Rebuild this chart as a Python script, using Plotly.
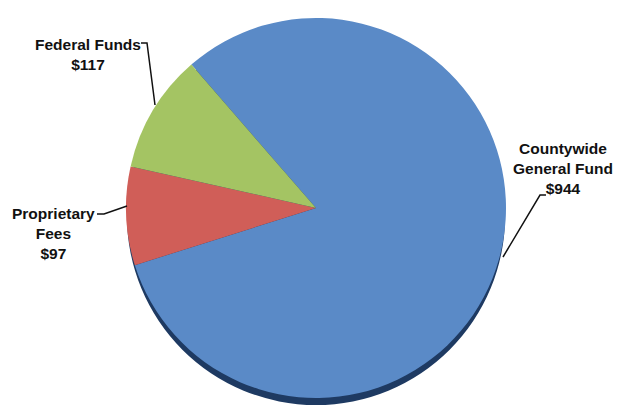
import plotly.graph_objects as go

categories = ["Countywide General Fund", "Proprietary Fees", "Federal Funds"]
values = [944, 97, 117]
label_lines = [["Countywide", "General Fund", "$944"], ["Proprietary", "Fees", "$97"], ["Federal Funds", "$117"]]
colors = ["#5A8AC7", "#D05E58", "#A4C463"]

# the page body has an 8px margin; the figure fills the rest of the 622x407 window
OFF = 8
W, H = 622 - OFF, 407 - OFF

def px(x, y):
    return (x - OFF) / W, 1 - (y - OFF) / H

def clip(v):
    return min(1.0, max(0.0, v))

# pie geometry (window pixels)
cx, cy, r = 316, 208, 190
x0, y1 = px(cx - r, cy - r)
x1, y0 = px(cx + r, cy + r)
rr, dy = r - 1, 8
sx0, sy1 = px(cx - rr, cy + dy - rr)
sx1, sy0 = px(cx + rr, cy + dy + rr)

fig = go.Figure()
# dark rim (3D edge) behind the pie
fig.add_trace(go.Pie(
    values=[sum(values)], labels=["rim"], sort=False,
    marker=dict(colors=["#1E3A62"], line=dict(width=0)),
    textinfo="none", hoverinfo="skip", showlegend=False,
    domain=dict(x=[clip(sx0), clip(sx1)], y=[clip(sy0), clip(sy1)]),
))
fig.add_trace(go.Pie(
    values=values, labels=categories, sort=False,
    direction="clockwise", rotation=-41,
    marker=dict(colors=colors, line=dict(width=0)),
    textinfo="none", showlegend=False,
    domain=dict(x=[clip(x0), clip(x1)], y=[clip(y0), clip(y1)]),
))

font = dict(family="Liberation Sans Narrow, Arial Narrow, Arial, sans-serif", size=15.5, color="#111111")

label_pos = [(563, 168), (53, 233), (88, 54)]
for lines, (lx, ly) in zip(label_lines, label_pos):
    ax, ay = px(lx, ly)
    fig.add_annotation(
        x=ax, y=ay, xref="paper", yref="paper",
        text="<br>".join("<b>%s</b>" % s for s in lines),
        showarrow=False, font=font, align="center",
        xanchor="center", yanchor="middle",
    )

leaders = [
    [(503, 257), (540, 195), (546, 195)],
    [(97, 214), (104, 214), (127, 206)],
    [(141, 43), (147, 43), (155, 105)],
]
for pts in leaders:
    path = ""
    for i, (x, y) in enumerate(pts):
        X, Y = px(x, y)
        path += ("M" if i == 0 else " L") + " %f,%f" % (X, Y)
    fig.add_shape(type="path", path=path, xref="paper", yref="paper",
                  line=dict(color="#111111", width=1.5))

fig.update_layout(
    width=W, height=H,
    margin=dict(l=0, r=0, t=0, b=0),
    paper_bgcolor="white", plot_bgcolor="white",
)

fig.write_html("out.html")
